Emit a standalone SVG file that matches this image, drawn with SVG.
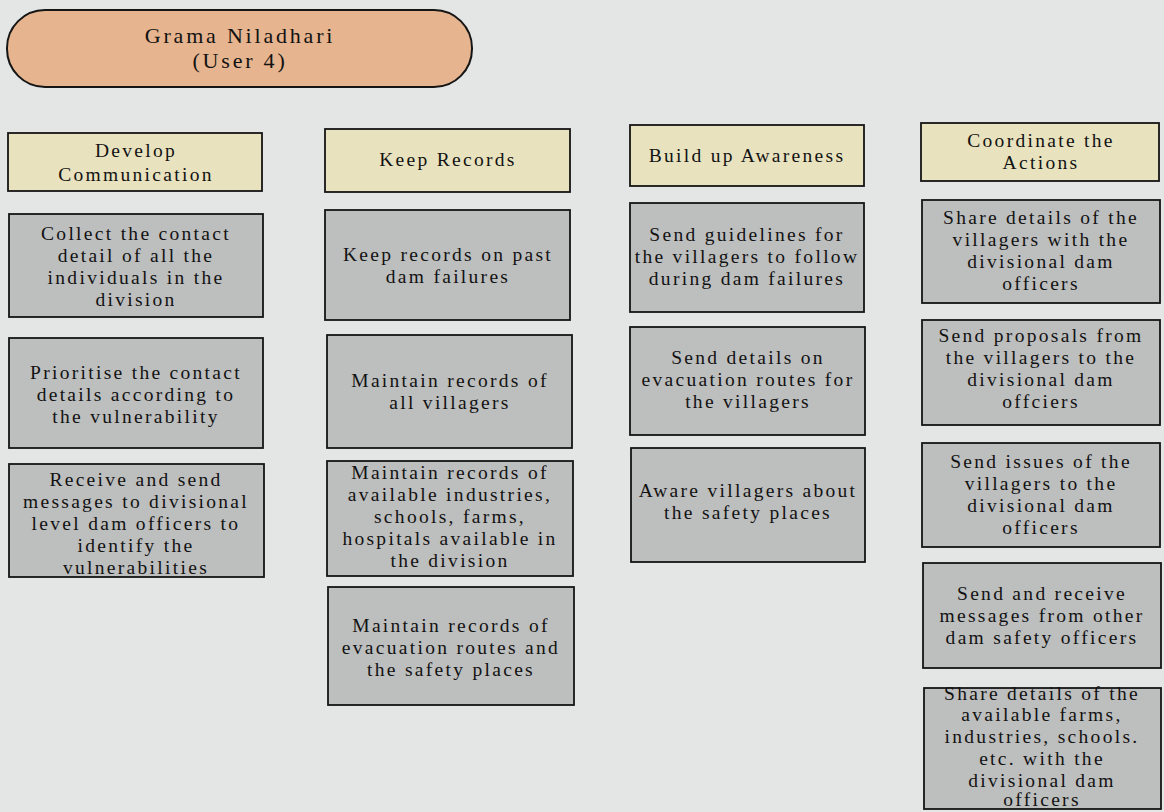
<svg xmlns="http://www.w3.org/2000/svg" width="1164" height="812" viewBox="0 0 1164 812">
  <style>
    .page { fill: #e4e6e6; }
    .pill { fill: #e6b48e; stroke: #151515; stroke-width: 2; }
    .head { fill: #e8e2bf; stroke: #151515; stroke-width: 1.8; }
    .task { fill: #bdbebe; stroke: #151515; stroke-width: 1.8; }
    text { font-family: "Liberation Serif", "Times New Roman", serif; font-size: 19.5px; letter-spacing: 2.3px; fill: #121212; text-anchor: middle; }
    .title { font-size: 22px; letter-spacing: 2.8px; }
  </style>

  <rect class="page" x="0" y="0" width="1164" height="812"/>

  <!-- role banner -->
  <g id="role">
    <rect class="pill" x="7" y="10" width="465" height="77" rx="38" ry="38"/>
    <text class="title" x="240" y="43">Grama Niladhari</text>
    <text class="title" x="240" y="68">(User 4)</text>
  </g>

  <!-- column 1: Develop Communication -->
  <g id="develop-communication">
    <rect class="head" x="8" y="133" width="254" height="58"/>
    <text x="136" y="157">Develop</text>
    <text x="136" y="181">Communication</text>
  </g>
  <g id="collect-contacts">
    <rect class="task" x="9" y="214" width="254" height="103"/>
    <text x="136" y="240">Collect the contact</text>
    <text x="136" y="262">detail of all the</text>
    <text x="136" y="284">individuals in the</text>
    <text x="136" y="306">division</text>
  </g>
  <g id="prioritise-contacts">
    <rect class="task" x="9" y="338" width="254" height="110"/>
    <text x="136" y="379">Prioritise the contact</text>
    <text x="136" y="401">details according to</text>
    <text x="136" y="423">the vulnerability</text>
  </g>
  <g id="message-officers">
    <rect class="task" x="9" y="464" width="255" height="113"/>
    <text x="136" y="486">Receive and send</text>
    <text x="136" y="508">messages to divisional</text>
    <text x="136" y="530">level dam officers to</text>
    <text x="136" y="552">identify the</text>
    <text x="136" y="574">vulnerabilities</text>
  </g>

  <!-- column 2: Keep Records -->
  <g id="keep-records">
    <rect class="head" x="325" y="129" width="245" height="63"/>
    <text x="448" y="166">Keep Records</text>
  </g>
  <g id="past-failures">
    <rect class="task" x="325" y="210" width="245" height="110"/>
    <text x="448" y="261">Keep records on past</text>
    <text x="448" y="283">dam failures</text>
  </g>
  <g id="villager-records">
    <rect class="task" x="327" y="335" width="245" height="113"/>
    <text x="450" y="387">Maintain records of</text>
    <text x="450" y="409">all villagers</text>
  </g>
  <g id="facility-records">
    <rect class="task" x="327" y="461" width="246" height="115"/>
    <text x="450" y="479">Maintain records of</text>
    <text x="450" y="501">available industries,</text>
    <text x="450" y="523">schools, farms,</text>
    <text x="450" y="545">hospitals available in</text>
    <text x="450" y="567">the division</text>
  </g>
  <g id="route-records">
    <rect class="task" x="328" y="587" width="246" height="118"/>
    <text x="451" y="632">Maintain records of</text>
    <text x="451" y="654">evacuation routes and</text>
    <text x="451" y="676">the safety places</text>
  </g>

  <!-- column 3: Build up Awareness -->
  <g id="build-awareness">
    <rect class="head" x="630" y="125" width="234" height="61"/>
    <text x="747" y="162">Build up Awareness</text>
  </g>
  <g id="send-guidelines">
    <rect class="task" x="630" y="203" width="234" height="109"/>
    <text x="747" y="241">Send guidelines for</text>
    <text x="747" y="263">the villagers to follow</text>
    <text x="747" y="285">during dam failures</text>
  </g>
  <g id="send-routes">
    <rect class="task" x="630" y="327" width="235" height="108"/>
    <text x="748" y="364">Send details on</text>
    <text x="748" y="386">evacuation routes for</text>
    <text x="748" y="408">the villagers</text>
  </g>
  <g id="safety-places">
    <rect class="task" x="631" y="448" width="234" height="114"/>
    <text x="748" y="497">Aware villagers about</text>
    <text x="748" y="519">the safety places</text>
  </g>

  <!-- column 4: Coordinate the Actions -->
  <g id="coordinate-actions">
    <rect class="head" x="921" y="123" width="238" height="58"/>
    <text x="1041" y="147">Coordinate the</text>
    <text x="1041" y="169">Actions</text>
  </g>
  <g id="share-villagers">
    <rect class="task" x="922" y="200" width="238" height="103"/>
    <text x="1041" y="224">Share details of the</text>
    <text x="1041" y="246">villagers with the</text>
    <text x="1041" y="268">divisional dam</text>
    <text x="1041" y="290">officers</text>
  </g>
  <g id="send-proposals">
    <rect class="task" x="922" y="320" width="238" height="105"/>
    <text x="1041" y="342">Send proposals from</text>
    <text x="1041" y="364">the villagers to the</text>
    <text x="1041" y="386">divisional dam</text>
    <text x="1041" y="408">offciers</text>
  </g>
  <g id="send-issues">
    <rect class="task" x="922" y="443" width="238" height="104"/>
    <text x="1041" y="468">Send issues of the</text>
    <text x="1041" y="490">villagers to the</text>
    <text x="1041" y="512">divisional dam</text>
    <text x="1041" y="534">officers</text>
  </g>
  <g id="officer-messages">
    <rect class="task" x="923" y="563" width="238" height="105"/>
    <text x="1042" y="600">Send and receive</text>
    <text x="1042" y="622">messages from other</text>
    <text x="1042" y="644">dam safety officers</text>
  </g>
  <g id="share-facilities">
    <rect class="task" x="924" y="688" width="237" height="121"/>
    <text x="1042" y="700">Share details of the</text>
    <text x="1042" y="721">available farms,</text>
    <text x="1042" y="743">industries, schools.</text>
    <text x="1042" y="765">etc. with the</text>
    <text x="1042" y="787">divisional dam</text>
    <text x="1042" y="806">officers</text>
  </g>

  <!-- no links between the boxes -->
  <g id="connectors"/>
</svg>
